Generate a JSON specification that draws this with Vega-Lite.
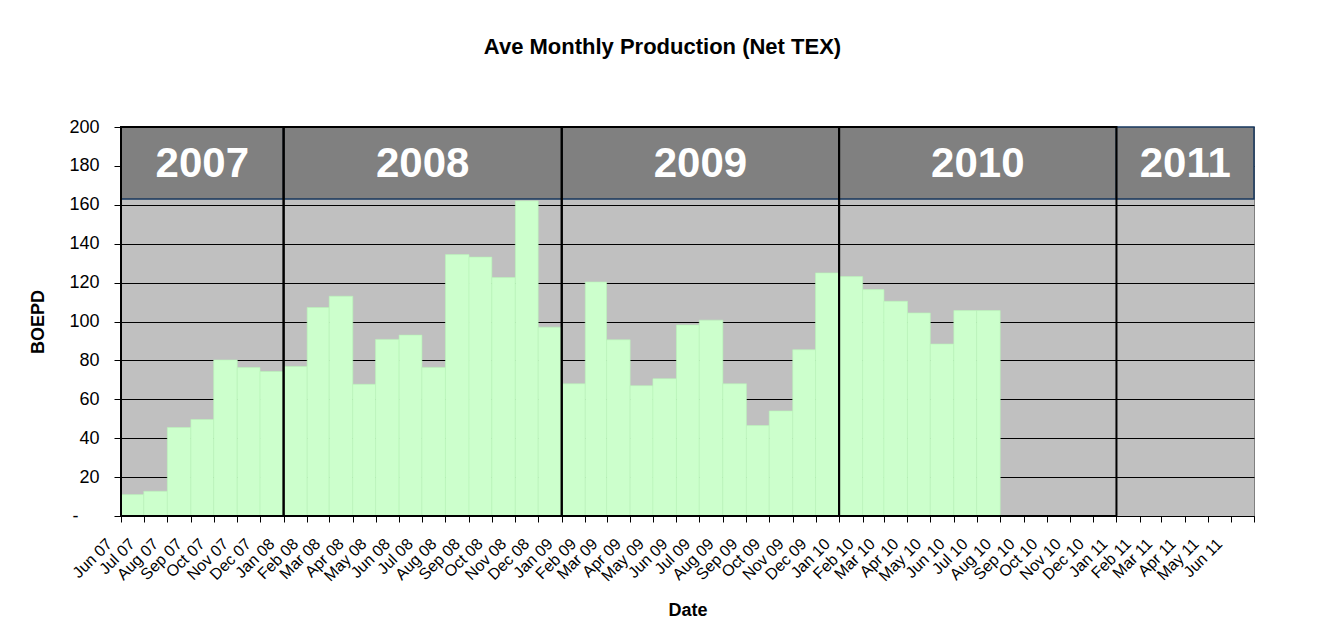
{
  "$schema": "https://vega.github.io/schema/vega-lite/v6.json",
  "width": 1133,
  "height": 389,
  "autosize": "none",
  "padding": {"left": 121, "top": 127, "right": 68, "bottom": 119},
  "background": "white",
  "title": {
    "text": "Ave Monthly Production (Net TEX)",
    "font": "Liberation Sans",
    "fontSize": 22,
    "fontWeight": "bold",
    "color": "black",
    "anchor": "middle",
    "offset": 59,
    "dx": -25
  },
  "config": {
    "font": "Liberation Sans",
    "view": {"fill": "#C0C0C0", "stroke": "#808080", "strokeWidth": 1}
  },
  "datasets": {
    "prod": [
      {"month": "2007-06-01T00:00:00", "next": "2007-07-01T00:00:00", "boepd": 11},
      {"month": "2007-07-01T00:00:00", "next": "2007-08-01T00:00:00", "boepd": 12.7},
      {"month": "2007-08-01T00:00:00", "next": "2007-09-01T00:00:00", "boepd": 45.5},
      {"month": "2007-09-01T00:00:00", "next": "2007-10-01T00:00:00", "boepd": 49.6},
      {"month": "2007-10-01T00:00:00", "next": "2007-11-01T00:00:00", "boepd": 80.2},
      {"month": "2007-11-01T00:00:00", "next": "2007-12-01T00:00:00", "boepd": 76.3},
      {"month": "2007-12-01T00:00:00", "next": "2008-01-01T00:00:00", "boepd": 74.3},
      {"month": "2008-01-01T00:00:00", "next": "2008-02-01T00:00:00", "boepd": 76.9},
      {"month": "2008-02-01T00:00:00", "next": "2008-03-01T00:00:00", "boepd": 107.2},
      {"month": "2008-03-01T00:00:00", "next": "2008-04-01T00:00:00", "boepd": 113},
      {"month": "2008-04-01T00:00:00", "next": "2008-05-01T00:00:00", "boepd": 67.7},
      {"month": "2008-05-01T00:00:00", "next": "2008-06-01T00:00:00", "boepd": 90.8},
      {"month": "2008-06-01T00:00:00", "next": "2008-07-01T00:00:00", "boepd": 93},
      {"month": "2008-07-01T00:00:00", "next": "2008-08-01T00:00:00", "boepd": 76.4},
      {"month": "2008-08-01T00:00:00", "next": "2008-09-01T00:00:00", "boepd": 134.4},
      {"month": "2008-09-01T00:00:00", "next": "2008-10-01T00:00:00", "boepd": 133.1},
      {"month": "2008-10-01T00:00:00", "next": "2008-11-01T00:00:00", "boepd": 122.6},
      {"month": "2008-11-01T00:00:00", "next": "2008-12-01T00:00:00", "boepd": 162},
      {"month": "2008-12-01T00:00:00", "next": "2009-01-01T00:00:00", "boepd": 97.1},
      {"month": "2009-01-01T00:00:00", "next": "2009-02-01T00:00:00", "boepd": 68},
      {"month": "2009-02-01T00:00:00", "next": "2009-03-01T00:00:00", "boepd": 120.3},
      {"month": "2009-03-01T00:00:00", "next": "2009-04-01T00:00:00", "boepd": 90.6},
      {"month": "2009-04-01T00:00:00", "next": "2009-05-01T00:00:00", "boepd": 67},
      {"month": "2009-05-01T00:00:00", "next": "2009-06-01T00:00:00", "boepd": 70.6},
      {"month": "2009-06-01T00:00:00", "next": "2009-07-01T00:00:00", "boepd": 98.2},
      {"month": "2009-07-01T00:00:00", "next": "2009-08-01T00:00:00", "boepd": 100.7},
      {"month": "2009-08-01T00:00:00", "next": "2009-09-01T00:00:00", "boepd": 68},
      {"month": "2009-09-01T00:00:00", "next": "2009-10-01T00:00:00", "boepd": 46.5},
      {"month": "2009-10-01T00:00:00", "next": "2009-11-01T00:00:00", "boepd": 54},
      {"month": "2009-11-01T00:00:00", "next": "2009-12-01T00:00:00", "boepd": 85.5},
      {"month": "2009-12-01T00:00:00", "next": "2010-01-01T00:00:00", "boepd": 125},
      {"month": "2010-01-01T00:00:00", "next": "2010-02-01T00:00:00", "boepd": 123.1},
      {"month": "2010-02-01T00:00:00", "next": "2010-03-01T00:00:00", "boepd": 116.4},
      {"month": "2010-03-01T00:00:00", "next": "2010-04-01T00:00:00", "boepd": 110.4},
      {"month": "2010-04-01T00:00:00", "next": "2010-05-01T00:00:00", "boepd": 104.4},
      {"month": "2010-05-01T00:00:00", "next": "2010-06-01T00:00:00", "boepd": 88.4},
      {"month": "2010-06-01T00:00:00", "next": "2010-07-01T00:00:00", "boepd": 105.6},
      {"month": "2010-07-01T00:00:00", "next": "2010-08-01T00:00:00", "boepd": 105.6}
    ],
    "years": [
      {"year": "2007", "start": "2007-06-01T00:00:00", "end": "2008-01-01T00:00:00", "full": true},
      {"year": "2008", "start": "2008-01-01T00:00:00", "end": "2009-01-01T00:00:00", "full": true},
      {"year": "2009", "start": "2009-01-01T00:00:00", "end": "2010-01-01T00:00:00", "full": true},
      {"year": "2010", "start": "2010-01-01T00:00:00", "end": "2011-01-01T00:00:00", "full": true},
      {"year": "2011", "start": "2011-01-01T00:00:00", "end": "2011-07-01T00:00:00", "full": false}
    ]
  },
  "layer": [
    {
      "data": {"name": "prod"},
      "mark": {"type": "rect", "fill": "#CCFFCC", "stroke": "#B8F5B8", "strokeWidth": 0.6},
      "encoding": {
        "x": {
          "field": "month",
          "type": "temporal",
          "scale": {"domain": [{"year": 2007, "month": 6, "date": 1}, {"year": 2011, "month": 7, "date": 1}], "nice": false},
          "axis": {
            "title": "Date",
            "titleFont": "Liberation Sans",
            "titleFontSize": 18,
            "titleFontWeight": "bold",
            "titleColor": "black",
            "titlePadding": 18,
            "format": "%b %y",
            "tickCount": {"interval": "month", "step": 1},
            "labelExpr": "datum.value >= datetime(2011, 6, 1) ? '' : datum.label",
            "labelAngle": -45,
            "labelAlign": "right",
            "labelBaseline": "middle",
            "labelPadding": 19,
            "labelOffset": -12,
            "labelFontSize": 16,
            "labelColor": "black",
            "labelOverlap": false,
            "labelBound": false,
            "labelFlush": false,
            "grid": false,
            "domainColor": "black",
            "domainWidth": 1,
            "tickColor": "black",
            "tickSize": 6
          }
        },
        "x2": {"field": "next"},
        "y": {
          "field": "boepd",
          "type": "quantitative",
          "scale": {"domain": [0, 200], "nice": false},
          "axis": {
            "title": "BOEPD",
            "titleFont": "Liberation Sans",
            "titleFontSize": 18,
            "titleFontWeight": "bold",
            "titleColor": "black",
            "titlePadding": 21,
            "values": [0, 20, 40, 60, 80, 100, 120, 140, 160, 180, 200],
            "tickCount": 20,
            "labelExpr": "datum.value === 0 ? '-' : datum.label",
            "labelFontSize": 18,
            "labelColor": "black",
            "labelPadding": {"condition": {"test": "datum.value === 0", "value": 36}, "value": 15},
            "labelOverlap": false,
            "labelFlush": false,
            "labelBound": false,
            "grid": true,
            "gridColor": "black",
            "gridWidth": 1,
            "domainColor": "black",
            "domainWidth": 1,
            "tickColor": "black",
            "tickSize": 7
          }
        },
        "y2": {"datum": 0}
      }
    },
    {
      "data": {"name": "years"},
      "mark": {"type": "rect", "fill": "#808080", "stroke": "#17375E", "strokeWidth": 1.5},
      "encoding": {
        "x": {"field": "start", "type": "temporal"},
        "x2": {"field": "end"},
        "y": {"datum": 163, "type": "quantitative"},
        "y2": {"datum": 200}
      }
    },
    {
      "data": {"name": "years"},
      "transform": [{"filter": "datum.full"}],
      "mark": {"type": "rect", "fill": null, "fillOpacity": 0, "stroke": "black", "strokeWidth": 2},
      "encoding": {
        "x": {"field": "start", "type": "temporal"},
        "x2": {"field": "end"},
        "y": {"datum": 0, "type": "quantitative"},
        "y2": {"datum": 200}
      }
    },
    {
      "data": {"name": "years"},
      "transform": [{"calculate": "(toDate(datum.start) + toDate(datum.end)) / 2", "as": "mid"}],
      "mark": {"type": "text", "font": "Liberation Sans", "fontSize": 42, "fontWeight": "bold", "color": "white", "baseline": "middle", "align": "center"},
      "encoding": {
        "x": {"field": "mid", "type": "temporal"},
        "y": {"datum": 181, "type": "quantitative"},
        "text": {"field": "year"}
      }
    }
  ]
}
